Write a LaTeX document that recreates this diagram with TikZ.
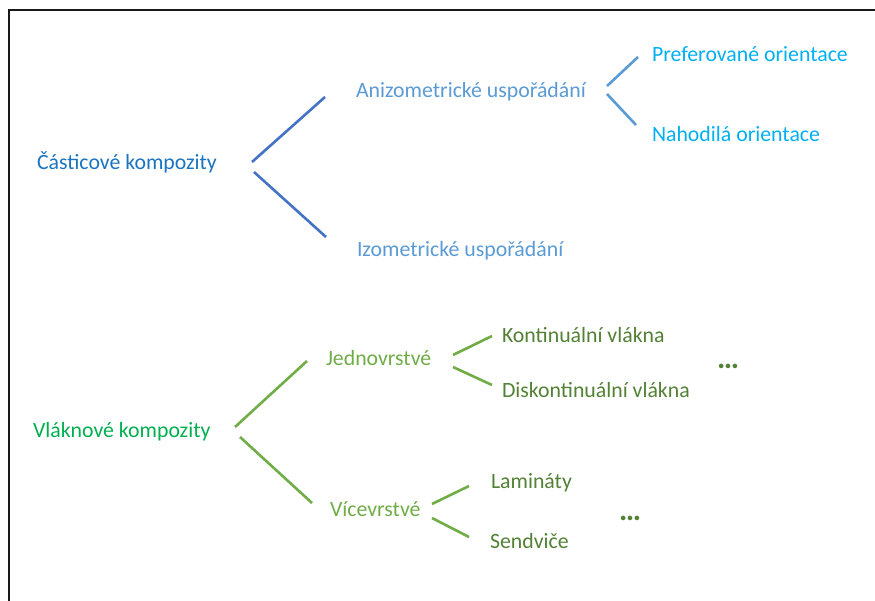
\documentclass[tikz,border=0pt]{standalone}
\usepackage{fontspec}
\setmainfont{Carlito}
\definecolor{cBlueDark}{HTML}{1B74C1}
\definecolor{cBlueLine}{HTML}{4472C4}
\definecolor{cBlueMid}{HTML}{5B9BD5}
\definecolor{cCyan}{HTML}{00B0F0}
\definecolor{cGreenBright}{HTML}{00B050}
\definecolor{cGreen}{HTML}{70AD47}
\definecolor{cGreenDark}{HTML}{538135}
\tikzset{
  lbl/.style={anchor=base west, inner sep=0pt, outer sep=0pt,
    font=\fontsize{21.8}{26}\selectfont},
  dotsnode/.style={anchor=base west, inner sep=0pt, outer sep=0pt,
    font=\fontsize{31}{34}\selectfont\bfseries, text=cGreenDark},
  branch/.style={line width=2.6pt},
}
\begin{document}
\begin{tikzpicture}[x=1pt, y=-1pt]
\useasboundingbox (0,0) rectangle (875,601);
\fill[white] (0,0) rectangle (875,601);
% frame
\draw[line width=1.3pt, black!90] (9,601) -- (9,10) -- (875,10);

% particle composites
\node[lbl, text=cBlueDark] (c1) at (37,170) {Částicové kompozity};
\node[lbl, text=cBlueMid] (a1) at (356,98) {Anizometrické uspořádání};
\node[lbl, text=cBlueMid] (a2) at (357,257) {Izometrické uspořádání};
\node[lbl, text=cCyan] (p1) at (652,62) {Preferované orientace};
\node[lbl, text=cCyan] (p2) at (652,142) {Nahodilá orientace};

\draw[branch, cBlueLine] ([shift={(215,-8)}]c1.base west) -- ([shift={(-31,-1)}]a1.base west);
\draw[branch, cBlueLine] ([shift={(217,2)}]c1.base west) -- ([shift={(-31,-20)}]a2.base west);
\draw[branch, cBlueMid] ([shift={(251,-12)}]a1.base west) -- ([shift={(-14,-5)}]p1.base west);
\draw[branch, cBlueMid] ([shift={(251,-4)}]a1.base west) -- ([shift={(-16,-17)}]p2.base west);

% fibre composites
\node[lbl, text=cGreenBright] (v0) at (33,437) {Vláknové kompozity};
\node[lbl, text=cGreen] (j1) at (326,365) {Jednovrstvé};
\node[lbl, text=cGreen] (j2) at (330,516) {Vícevrstvé};
\node[lbl, text=cGreenDark] (k1) at (502,343) {Kontinuální vlákna};
\node[lbl, text=cGreenDark] (k2) at (502,397) {Diskontinuální vlákna};
\node[lbl, text=cGreenDark] (l1) at (491,488) {Lamináty};
\node[lbl, text=cGreenDark] (l2) at (490,548) {Sendviče};
\node[dotsnode] (d1) at (717,368) {…};
\node[dotsnode] (d2) at (619,520) {…};

\draw[branch, cGreen] ([shift={(202,-10)}]v0.base west) -- ([shift={(-19,-4)}]j1.base west);
\draw[branch, cGreen] ([shift={(207,0)}]v0.base west) -- ([shift={(-18,-13)}]j2.base west);
\draw[branch, cGreen] ([shift={(127,-10)}]j1.base west) -- ([shift={(-10,-7)}]k1.base west);
\draw[branch, cGreen] ([shift={(127,2)}]j1.base west) -- ([shift={(-10,-12)}]k2.base west);
\draw[branch, cGreen] ([shift={(102,-12)}]j2.base west) -- ([shift={(-22,-2)}]l1.base west);
\draw[branch, cGreen] ([shift={(102,2)}]j2.base west) -- ([shift={(-21,-11)}]l2.base west);
\end{tikzpicture}
\end{document}
